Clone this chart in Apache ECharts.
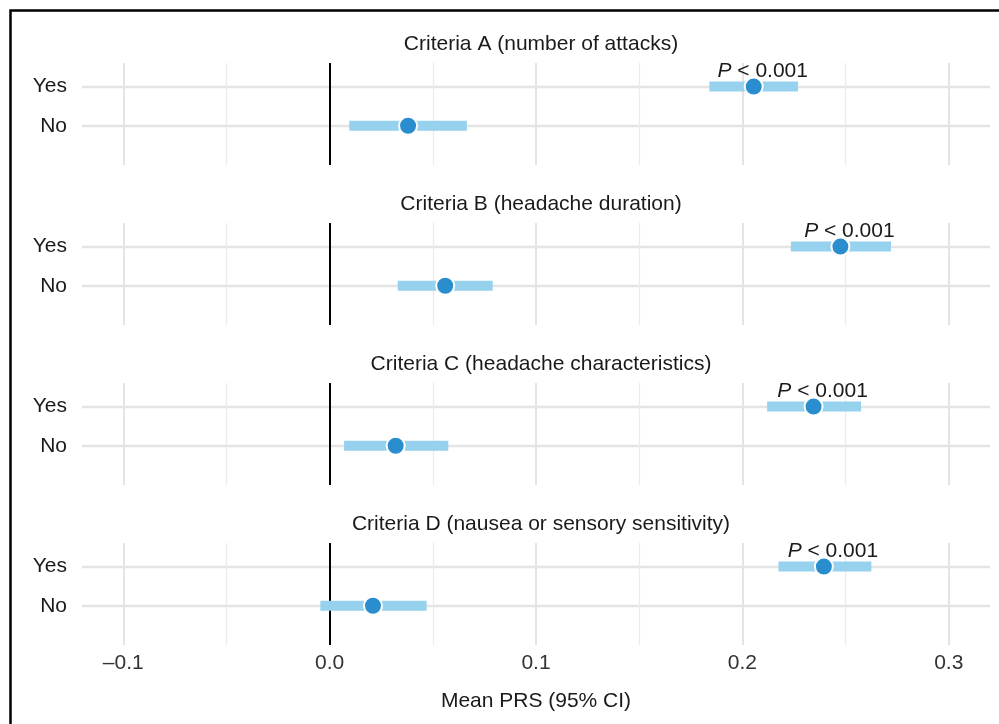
<!DOCTYPE html>
<html>
<head>
<meta charset="utf-8">
<script src="https://cdn.jsdelivr.net/npm/echarts@6/dist/echarts.min.js"></script>
<style>
  html, body { margin: 0; padding: 0; background: #fff; }
  #main { width: 999px; height: 724px; }
</style>
</head>
<body>
<div id="main"></div>
<script>
// panel titles and row labels
var panels = [
  'Criteria A (number of attacks)',
  'Criteria B (headache duration)',
  'Criteria C (headache characteristics)',
  'Criteria D (nausea or sensory sensitivity)'
];
var rows = ['No', 'Yes'];

// mean PRS and 95% CI per panel
var meanNo  = [0.038, 0.056, 0.032, 0.021];
var lowNo   = [0.0095, 0.033, 0.007, -0.0045];
var highNo  = [0.0665, 0.079, 0.0575, 0.047];
var meanYes = [0.2055, 0.2475, 0.2345, 0.2395];
var lowYes  = [0.184, 0.2235, 0.212, 0.2175];
var highYes = [0.227, 0.272, 0.2575, 0.2625];
var pLabels = ['< 0.001', '< 0.001', '< 0.001', '< 0.001'];

// x ticks
var xTicks = [-0.1, 0.1, 0.2, 0.3];
var xMinor = [-0.05, 0.05, 0.15, 0.25];
var xAxisTitle = 'Mean PRS (95% CI)';

var FONT = 'Liberation Sans, Arial, sans-serif';
var FS = 21;
var TXT = '#1a1a1a';

var chart = echarts.init(document.getElementById('main'));

var grids = [], xAxes = [], yAxes = [], titles = [], series = [];
panels.forEach(function (name, i) {
  var top = 63 + 160 * i;
  grids.push({ left: 82, right: 9, top: top, height: 102 });
  titles.push({
    text: name, left: 536, top: top - 34, textAlign: 'center',
    textStyle: { fontFamily: FONT, fontSize: FS, fontWeight: 'normal', color: TXT }
  });
  var last = i === panels.length - 1;
  xAxes.push({
    type: 'value', gridIndex: i, min: -0.12, max: 0.32,
    axisLine: { show: false }, axisTick: { show: false }, splitLine: { show: false },
    axisLabel: {
      show: last, margin: 8, fontFamily: FONT, fontSize: FS, color: '#333',
      showMinLabel: false, showMaxLabel: false,
      formatter: function (v) {
        if (Math.abs(v * 10 - Math.round(v * 10)) > 1e-6) return '';
        return (v < -1e-9 ? '\u2013' : '') + Math.abs(v).toFixed(1);
      }
    },
    name: last ? xAxisTitle : '', nameLocation: 'middle', nameGap: 46,
    nameTextStyle: { fontFamily: FONT, fontSize: FS, color: TXT }
  });
  yAxes.push({
    type: 'value', gridIndex: i, min: 0, max: 2.6, interval: 1,
    axisLine: { show: false }, axisTick: { show: false }, splitLine: { show: false },
    axisLabel: {
      margin: 15, fontFamily: FONT, fontSize: FS, color: TXT,
      formatter: function (v) { return rows[v - 1] || ''; }
    }
  });

  var lines = [];
  rows.forEach(function (r, k) {
    lines.push({ yAxis: k + 1, lineStyle: { color: '#e4e4e4', width: 2.3, type: 'solid' } });
  });
  xMinor.forEach(function (v) {
    lines.push({ xAxis: v, lineStyle: { color: '#ebebeb', width: 1.2, type: 'solid' } });
  });
  xTicks.forEach(function (v) {
    lines.push({ xAxis: v, lineStyle: { color: '#e4e4e4', width: 2, type: 'solid' } });
  });
  lines.push({ xAxis: 0, lineStyle: { color: '#000', width: 2, type: 'solid' } });

  series.push({
    type: 'custom', xAxisIndex: i, yAxisIndex: i, z: 2, silent: true,
    data: [[lowNo[i], highNo[i], 1], [lowYes[i], highYes[i], 2]],
    renderItem: function (params, api) {
      var a = api.coord([api.value(0), api.value(2)]);
      var b = api.coord([api.value(1), api.value(2)]);
      return { type: 'rect', shape: { x: a[0], y: a[1] - 5, width: b[0] - a[0], height: 10 },
        style: { fill: '#96d1ee' } };
    },
    markLine: { silent: true, z: 1, symbol: ['none', 'none'], label: { show: false },
      animation: false, data: lines }
  });
  series.push({
    type: 'scatter', xAxisIndex: i, yAxisIndex: i, z: 3, silent: true,
    symbolSize: 18,
    itemStyle: { color: '#2a8dcd', borderColor: '#fff', borderWidth: 2, opacity: 1 },
    data: [
      { value: [meanNo[i], 1] },
      { value: [meanYes[i], 2], label: {
        show: true, position: 'top', distance: 0, offset: [9, 5],
        formatter: '{i|P} ' + pLabels[i],
        fontFamily: FONT, fontSize: FS, color: TXT,
        rich: { i: { fontStyle: 'italic', fontFamily: FONT, fontSize: FS, color: TXT } }
      } }
    ]
  });
});

chart.setOption({
  animation: false,
  title: titles,
  grid: grids,
  xAxis: xAxes,
  yAxis: yAxes,
  series: series,
  graphic: [{
    type: 'rect', z: 100, silent: true,
    shape: { x: 10.5, y: 10.5, width: 1000, height: 800 },
    style: { fill: 'none', stroke: '#000', lineWidth: 2.5 }
  }]
});
</script>
</body>
</html>
